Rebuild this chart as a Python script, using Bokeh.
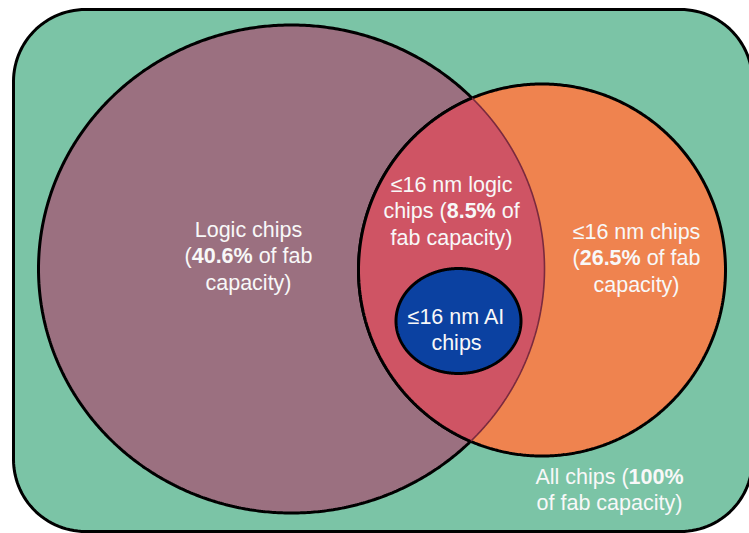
import numpy as np
from bokeh.plotting import figure
from bokeh.models import Range1d
from bokeh.core.properties import value
from bokeh.embed import file_html
from bokeh.resources import INLINE

# ---------------- data ----------------
set_names = ["All chips", "Logic chips", "≤16 nm chips", "≤16 nm logic chips", "≤16 nm AI chips"]
shares = [100, 40.6, 26.5, 8.5, None]   # % of fab capacity
fills = ["#7BC4A6", "#9B7080", "#EF834F", "#CF5464", "#0B41A1"]

# ---------------- layout (page pixels) ----------------
W, H = 749, 533
# ellipses: cx, cy, rx, ry
ELL = {
    "Logic chips": (291, 268.5, 253, 244),
    "≤16 nm chips": (541.5, 269.5, 183.5, 186),
    "≤16 nm AI chips": (458, 320.5, 62.5, 52.5),
}
RECT = (13, 9, 752, 531, 72)
LABEL_POS = {  # center x, first line middle y
    "Logic chips": (248, 229),
    "≤16 nm logic chips": (451, 184),
    "≤16 nm chips": (636, 231),
    "≤16 nm AI chips": (456, 316),
    "All chips": (609, 476),
}
FS = 21.5
LH = 26.5

p = figure(width=W, height=H, output_backend="svg", toolbar_location=None,
           x_range=Range1d(0, W), y_range=Range1d(H, 0),
           min_border=0, outline_line_color=None)
p.axis.visible = False
p.grid.visible = False
p.background_fill_color = "white"
p.border_fill_color = "white"


def rounded_rect(x0, y0, x1, y1, r, n=30):
    xs, ys = [], []
    corners = [(x1 - r, y0 + r, -np.pi / 2, 0), (x1 - r, y1 - r, 0, np.pi / 2),
               (x0 + r, y1 - r, np.pi / 2, np.pi), (x0 + r, y0 + r, np.pi, 1.5 * np.pi)]
    for cx, cy, a0, a1 in corners:
        t = np.linspace(a0, a1, n)
        xs += list(cx + r * np.cos(t))
        ys += list(cy + r * np.sin(t))
    return xs, ys


def ell_pts(e, t):
    cx, cy, rx, ry = e
    return cx + rx * np.cos(t), cy + ry * np.sin(t)


def inside(x, y, e):
    cx, cy, rx, ry = e
    return ((x - cx) / rx) ** 2 + ((y - cy) / ry) ** 2 <= 1


col = dict(zip(set_names, fills))
T = np.linspace(0, 2 * np.pi, 721)

# All chips rounded rectangle
rx_, ry_ = rounded_rect(*RECT)
p.patch(rx_, ry_, fill_color=col["All chips"], line_color="black", line_width=3)

L = ELL["Logic chips"]
O = ELL["≤16 nm chips"]
B = ELL["≤16 nm AI chips"]

x, y = ell_pts(L, T)
p.patch(x, y, fill_color=col["Logic chips"], line_color="black", line_width=3)
x, y = ell_pts(O, T)
p.patch(x, y, fill_color=col["≤16 nm chips"], line_color="black", line_width=3)

# lens = logic ∩ ≤16nm
t1 = np.linspace(-np.pi, np.pi, 3000)
lx, ly = ell_pts(L, t1)
m1 = inside(lx, ly, O)
arc1x, arc1y = lx[m1], ly[m1]
t2 = np.linspace(0, 2 * np.pi, 3000)
ox, oy = ell_pts(O, t2)
m2 = inside(ox, oy, L)
arc2x, arc2y = ox[m2], oy[m2]
p.patch(list(arc1x) + list(arc2x), list(arc1y) + list(arc2y),
        fill_color=col["≤16 nm logic chips"], line_color=None)
p.line(arc1x, arc1y, line_color="#7A2A3E", line_width=1.6)
p.line(arc2x, arc2y, line_color="black", line_width=3)

# AI circle
x, y = ell_pts(B, T)
p.patch(x, y, fill_color=col["≤16 nm AI chips"], line_color="black", line_width=3)

# ---------------- labels ----------------
REG = {' ': 278, '(': 333, ')': 333, '%': 889, '.': 278, '≤': 549,
       'a': 556, 'b': 556, 'c': 500, 'd': 556, 'e': 556, 'f': 278, 'g': 556, 'h': 556,
       'i': 222, 'l': 222, 'm': 833, 'n': 556, 'o': 556, 'p': 556, 's': 500, 't': 278,
       'y': 500, 'A': 667, 'I': 278, 'L': 556}
BOLD = {'%': 889, '.': 278}


def seg_w(s, bold):
    w = 0
    for ch in s:
        if ch.isdigit():
            w += 556
        elif bold and ch in BOLD:
            w += BOLD[ch]
        else:
            w += REG.get(ch, 556)
    return w / 1000 * FS


def pct(v):
    return f"{v:g}%"


share = dict(zip(set_names, shares))
LINES = {
    "Logic chips": [[("Logic chips", False)],
                    [("(", False), (pct(share["Logic chips"]), True), (" of fab", False)],
                    [("capacity)", False)]],
    "≤16 nm logic chips": [[("≤16 nm logic", False)],
                           [("chips (", False), (pct(share["≤16 nm logic chips"]), True), (" of", False)],
                           [("fab capacity)", False)]],
    "≤16 nm chips": [[("≤16 nm chips", False)],
                     [("(", False), (pct(share["≤16 nm chips"]), True), (" of fab", False)],
                     [("capacity)", False)]],
    "≤16 nm AI chips": [[("≤16 nm AI", False)], [("chips", False)]],
    "All chips": [[("All chips (", False), (pct(share["All chips"]), True)],
                  [("of fab capacity)", False)]],
}

xs_r, ys_r, tx_r = [], [], []
xs_b, ys_b, tx_b = [], [], []
for name, lines in LINES.items():
    cx, cy = LABEL_POS[name]
    for i, segs in enumerate(lines):
        total = sum(seg_w(s, b) for s, b in segs)
        xx = cx - total / 2
        yy = cy + i * LH
        for s, b in segs:
            lead = len(s) - len(s.lstrip(" "))
            sx = xx + seg_w(" " * lead, b)
            if b:
                xs_b.append(sx); ys_b.append(yy); tx_b.append(s.strip(" "))
            else:
                xs_r.append(sx); ys_r.append(yy); tx_r.append(s.strip(" "))
            xx += seg_w(s, b)

p.text(x=xs_r, y=ys_r, text=tx_r, text_font=value("Liberation Sans"),
       text_font_size=f"{FS}px", text_color="#F8F8F8", text_align="left",
       text_baseline="middle")
p.text(x=xs_b, y=ys_b, text=tx_b, text_font=value("Liberation Sans"),
       text_font_size=f"{FS}px", text_font_style="bold", text_color="#F8F8F8",
       text_align="left", text_baseline="middle")

open("out.html", "w").write(file_html(p, INLINE))
